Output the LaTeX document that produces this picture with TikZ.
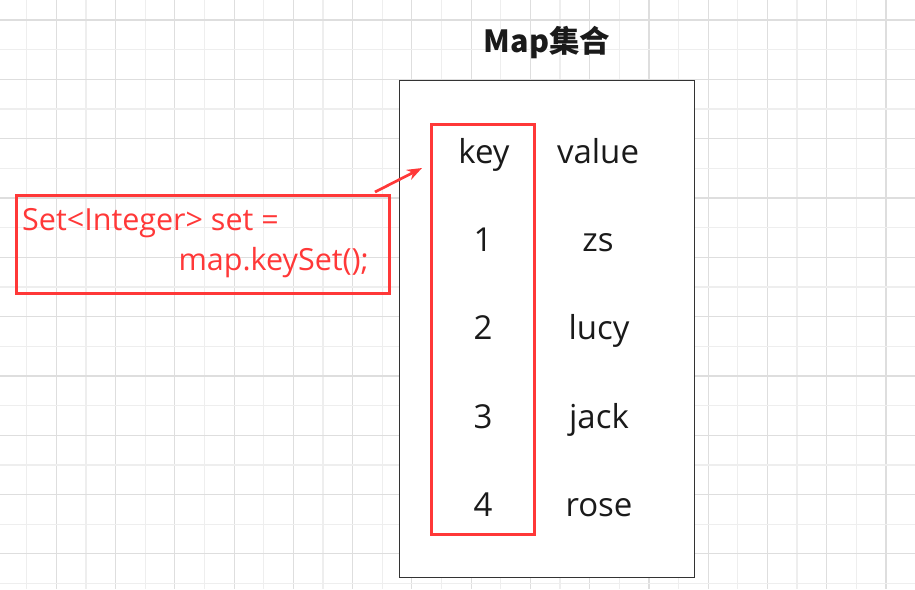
\documentclass[tikz,border=0pt]{standalone}
\usepackage{fontspec}
\setmainfont{Open Sans}
\newfontfamily\cjk{Noto Sans CJK SC}
\usetikzlibrary{arrows.meta}
\definecolor{redc}{RGB}{255,56,56}
\definecolor{gridlight}{RGB}{238,238,238}
\definecolor{griddark}{RGB}{222,222,222}
\definecolor{txt}{RGB}{26,26,26}
\definecolor{boxc}{RGB}{51,51,51}
\begin{document}
\begin{tikzpicture}[x=1pt,y=-1pt,
  cell/.style={anchor=base,inner sep=0pt,text=txt,font=\fontsize{33}{33}\selectfont},
  redtext/.style={inner sep=0pt,text=redc,font=\fontsize{30.5}{30.5}\selectfont},
  redbox/.style={draw=redc,line width=2.8pt}]
\useasboundingbox (0,0) rectangle (915,589);
\fill[white] (0,0) rectangle (915,589);
% grid
\foreach \k in {0,...,30}{
  \pgfmathsetmacro\xx{26.7+29.63*\k}
  \ifodd\k \draw[griddark,line width=1.2pt] (\xx,0) -- (\xx,589);
  \else \draw[gridlight,line width=1.2pt] (\xx,0) -- (\xx,589); \fi
}
\foreach \k in {0,...,19}{
  \pgfmathsetmacro\yy{20+29.66*\k}
  \ifodd\k \draw[gridlight,line width=1.2pt] (0,\yy) -- (915,\yy);
  \else \draw[griddark,line width=1.2pt] (0,\yy) -- (915,\yy); \fi
}
% title
\node[anchor=base,inner sep=0pt,text=txt,font=\cjk\bfseries\fontsize{30.5}{30.5}\selectfont] (title) at (547,52) {Map集合};
% main box
\node[draw=boxc,fill=white,line width=1.3pt,minimum width=295pt,minimum height=497pt,anchor=north west,inner sep=0pt] (map) at (399,80) {};
% key box
\node[redbox,minimum width=103pt,minimum height=410pt,anchor=north west,inner sep=0pt] (keys) at (430,123) {};
% cells
\node[cell] (k0) at (484,163) {key};
\node[cell] (v0) at (598,163) {value};
\node[cell] (k1) at (483,251) {1};
\node[cell] (v1) at (598,251) {zs};
\node[cell] (k2) at (483,339) {2};
\node[cell] (v2) at (599,339) {lucy};
\node[cell] (k3) at (483,428) {3};
\node[cell] (v3) at (599,428) {jack};
\node[cell] (k4) at (483,516) {4};
\node[cell] (v4) at (599,516) {rose};
% code box
\node[redbox,minimum width=373pt,minimum height=98pt,anchor=north west,inner sep=0pt] (code) at (15,194) {};
\node[redtext,anchor=base west] (c1) at (22,230) {Set<Integer> set =};
\node[redtext,anchor=base east] (c2) at (369,270) {map.keySet();};
% arrow
\coordinate (a1) at (375,192);
\coordinate (a2) at (422,168);
\draw[redc,line width=2.7pt,-{Stealth[length=15pt,width=11pt]}] (a1) -- (a2);
\end{tikzpicture}
\end{document}
